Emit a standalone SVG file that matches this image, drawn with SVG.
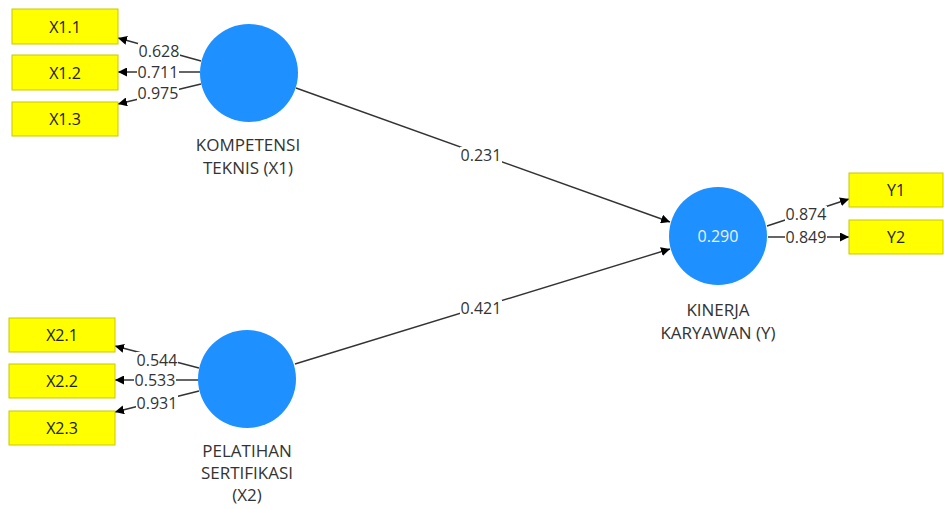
<svg xmlns="http://www.w3.org/2000/svg" width="944" height="509" viewBox="0 0 944 509">
<style>
.box{fill:#ffff00;stroke:#c8c800;stroke-width:1}
.lv{fill:#1e90ff}
.bt{font-family:"Open Sans","Noto Sans",sans-serif;font-size:16px;fill:#222;text-anchor:middle;dominant-baseline:central}
.nl{font-family:"Open Sans","Noto Sans",sans-serif;font-size:17px;fill:#333;text-anchor:middle}
.num{font-family:"Open Sans","Noto Sans",sans-serif;font-size:16px;fill:#333;text-anchor:middle;dominant-baseline:central}
.bg{fill:#fff}
.edge{stroke:#333;stroke-width:1.4;fill:none;marker-end:url(#ah)}
</style>
<defs>
<marker id="ah" viewBox="0 0 10 10" refX="10" refY="5" markerWidth="9" markerHeight="9" markerUnits="userSpaceOnUse" orient="auto"><path d="M0,0 L10,5 L0,10 z" fill="#000"/></marker>
</defs>
<rect width="944" height="509" fill="#fff"/>
<g id="connectors">
<path class="edge" d="M201,61 L118,38"/>
<path class="edge" d="M200,72 L118,72"/>
<path class="edge" d="M201,84 L118,104"/>
<path class="edge" d="M199,368 L115,346"/>
<path class="edge" d="M198,380 L115,380"/>
<path class="edge" d="M199,391 L115,412"/>
<path class="edge" d="M767,226 L849,199"/>
<path class="edge" d="M768,237 L849,237"/>
<path class="edge" d="M296,88 L670,222"/>
<path class="edge" d="M295,364 L670,249"/>
<rect class="bg" x="138" y="43" width="42" height="16"/>
<rect class="bg" x="137" y="64" width="42" height="16"/>
<rect class="bg" x="137" y="86" width="42" height="16"/>
<rect class="bg" x="136" y="352" width="42" height="16"/>
<rect class="bg" x="134" y="372" width="42" height="16"/>
<rect class="bg" x="136" y="395" width="42" height="16"/>
<rect class="bg" x="785" y="206" width="42" height="16"/>
<rect class="bg" x="785" y="229" width="42" height="16"/>
<rect class="bg" x="460" y="147" width="42" height="16"/>
<rect class="bg" x="460" y="300" width="42" height="16"/>
<text class="num" x="159" y="51">0.628</text>
<text class="num" x="158" y="72">0.711</text>
<text class="num" x="158" y="93">0.975</text>
<text class="num" x="157" y="360">0.544</text>
<text class="num" x="155" y="380">0.533</text>
<text class="num" x="157" y="403">0.931</text>
<text class="num" x="806" y="214">0.874</text>
<text class="num" x="806" y="237">0.849</text>
<text class="num" x="481" y="155">0.231</text>
<text class="num" x="481" y="308">0.421</text>
</g>
<g id="X1.1"><rect class="box" x="12" y="9" width="106" height="35"/><text class="bt" x="65" y="27">X1.1</text></g>
<g id="X1.2"><rect class="box" x="12" y="55" width="106" height="35"/><text class="bt" x="65" y="73">X1.2</text></g>
<g id="X1.3"><rect class="box" x="12" y="102" width="106" height="34"/><text class="bt" x="65" y="119">X1.3</text></g>
<g id="X2.1"><rect class="box" x="9" y="318" width="106" height="34"/><text class="bt" x="62" y="335">X2.1</text></g>
<g id="X2.2"><rect class="box" x="9" y="364" width="106" height="34"/><text class="bt" x="62" y="381">X2.2</text></g>
<g id="X2.3"><rect class="box" x="9" y="411" width="106" height="34"/><text class="bt" x="62" y="428">X2.3</text></g>
<g id="Y1"><rect class="box" x="849" y="173" width="94" height="34"/><text class="bt" x="896" y="190">Y1</text></g>
<g id="Y2"><rect class="box" x="849" y="220" width="94" height="34"/><text class="bt" x="896" y="237">Y2</text></g>
<g id="KT"><circle class="lv" cx="249" cy="73" r="49"/><text class="nl" x="248" y="151">KOMPETENSI</text><text class="nl" x="248" y="174">TEKNIS (X1)</text></g>
<g id="PS"><circle class="lv" cx="247" cy="379" r="49"/><text class="nl" x="247" y="457">PELATIHAN</text><text class="nl" x="247" y="479">SERTIFIKASI</text><text class="nl" x="247" y="501">(X2)</text></g>
<g id="KK"><circle class="lv" cx="718" cy="236" r="49"/><text x="718" y="236" style="font-family:'Open Sans','Noto Sans',sans-serif;font-size:16px;fill:#e8f2ff;text-anchor:middle;dominant-baseline:central">0.290</text><text class="nl" x="718" y="316">KINERJA</text><text class="nl" x="718" y="339">KARYAWAN (Y)</text></g>
</svg>
